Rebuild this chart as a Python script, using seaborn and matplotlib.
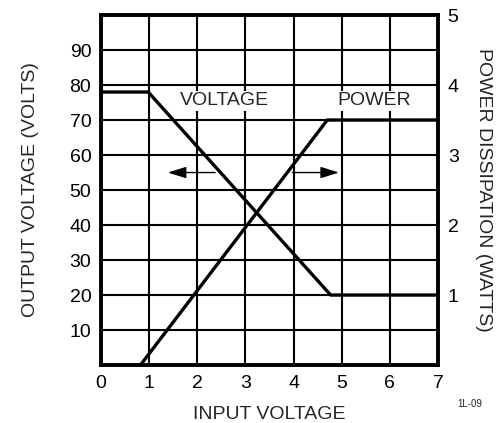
import numpy as np
import pandas as pd
import matplotlib
matplotlib.use("Agg")
import matplotlib.pyplot as plt
import seaborn as sns

# output voltage curve (volts, left axis)
volt_x = [0.0, 0.98, 4.77, 7.0]
volt_y = [78, 78, 20, 20]

# power dissipation curve (watts, right axis)
power_x = [0.82, 4.70, 7.0]
power_y = [0.0, 3.5, 3.5]

x_ticks = [0, 1, 2, 3, 4, 5, 6, 7]
left_ticks = [10, 20, 30, 40, 50, 60, 70, 80, 90]
right_ticks = [1, 2, 3, 4, 5]

sns.set_style("white")
plt.rcParams['font.family'] = ['Liberation Sans', 'DejaVu Sans']
FS = 14

fig = plt.figure(figsize=(5.0, 4.23), dpi=100)
ax = fig.add_axes([0.202, 0.137, 0.674, 0.8275])

volt_df = pd.DataFrame({"x": volt_x, "y": volt_y})
power_df = pd.DataFrame({"x": power_x, "y": power_y})

# grid first
ax.set_xlim(0, 7)
ax.set_ylim(0, 100)
ax.set_xticks(x_ticks)
ax.set_yticks(range(0, 101, 10))
ax.set_yticklabels([""] + [str(v) for v in left_ticks] + [""])
ax.grid(True, color="black", linewidth=1.5)
ax.set_axisbelow(True)
ax.tick_params(length=0, pad=7, labelsize=FS, colors="black")
for s in ax.spines.values():
    s.set_linewidth(2.6)
    s.set_color("black")
    s.set_zorder(5)

sns.lineplot(data=volt_df, x="x", y="y", ax=ax, color="black", linewidth=2.4,
             sort=False, estimator=None, zorder=4)

ax2 = ax.twinx()
ax2.set_ylim(0, 5)
sns.lineplot(data=power_df, x="x", y="y", ax=ax2, color="black", linewidth=2.4,
             sort=False, estimator=None, zorder=4)
ax2.set_yticks([0] + right_ticks)
ax2.set_yticklabels([""] + [str(v) for v in right_ticks])
ax2.tick_params(length=0, pad=7, labelsize=FS, colors="black")
for s in ax2.spines.values():
    s.set_linewidth(2.6)
    s.set_color("black")

ax.set_xlabel("INPUT VOLTAGE", fontsize=FS, labelpad=10)
ax.set_ylabel("OUTPUT VOLTAGE (VOLTS)", fontsize=FS, labelpad=22)
ax2.set_ylabel("POWER DISSIPATION (WATTS)", fontsize=FS, rotation=-90,
               labelpad=24)

ax.text(1.64, 75.5, "VOLTAGE", fontsize=FS, va="center", ha="left",
        bbox=dict(facecolor="white", edgecolor="none", pad=1), zorder=6)
ax.text(4.92, 75.5, "POWER", fontsize=FS, va="center", ha="left",
        bbox=dict(facecolor="white", edgecolor="none", pad=1), zorder=6)

arrow = dict(arrowstyle="-|>,head_length=0.8,head_width=0.25", color="black",
             lw=1.0, mutation_scale=14)
ax.annotate("", xy=(1.33, 55), xytext=(2.43, 55), arrowprops=arrow, zorder=6)
ax.annotate("", xy=(5.0, 55), xytext=(3.92, 55), arrowprops=arrow, zorder=6)

fig.text(0.94, 0.045, "1L-09", fontsize=7, ha="center", va="center")

fig.savefig("out.png", dpi=100)
